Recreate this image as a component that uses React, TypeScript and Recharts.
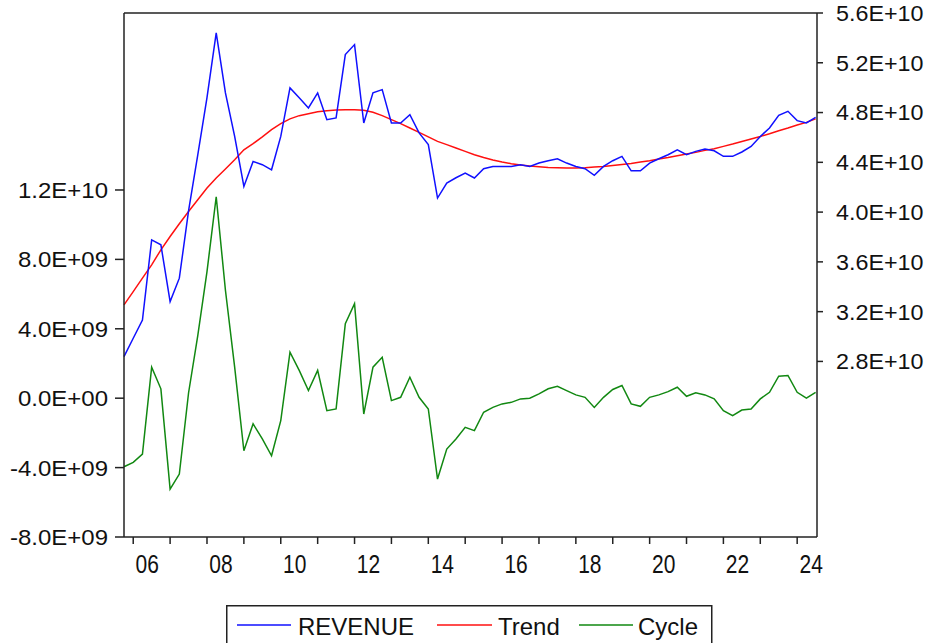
import { ComposedChart, Line, XAxis, YAxis, ReferenceLine } from 'recharts';

// quarterly observations, first one is 2005Q4; values in billions
const START_YEAR = 2005;
const START_QUARTER = 4;

const REVENUE = [
  28.38, 29.86, 31.33, 37.77, 37.37, 32.81, 34.69, 40.1, 44.6, 49.2,
  54.41, 49.58, 46.08, 42.06, 44.07, 43.81, 43.4, 46.08, 49.98, 49.18,
  48.37, 49.58, 47.43, 47.57, 52.66, 53.46, 47.16, 49.58, 49.84, 47.16,
  47.16, 47.83, 46.36, 45.42, 41.13, 42.33, 42.76, 43.14, 42.74, 43.49,
  43.67, 43.67, 43.67, 43.81, 43.67, 43.94, 44.13, 44.29, 43.94, 43.67,
  43.49, 42.95, 43.67, 44.13, 44.48, 43.32, 43.32, 43.94, 44.29, 44.61,
  45.01, 44.61, 44.88, 45.07, 44.93, 44.48, 44.48, 44.83, 45.28, 46.08,
  46.76, 47.77, 48.1, 47.35, 47.16, 47.61,
];

const TREND = [
  32.54, 33.61, 34.69, 35.76, 36.97, 38.04, 39.06, 40.05, 40.99, 41.93,
  42.74, 43.46, 44.21, 45.01, 45.5, 46.04, 46.62, 47.11, 47.49, 47.75,
  47.91, 48.07, 48.15, 48.21, 48.23, 48.23, 48.18, 48.02, 47.75, 47.43,
  47.11, 46.76, 46.41, 46.04, 45.68, 45.42, 45.15, 44.88, 44.61, 44.39,
  44.19, 44.02, 43.89, 43.78, 43.7, 43.65, 43.59, 43.57, 43.54, 43.54,
  43.57, 43.62, 43.67, 43.75, 43.83, 43.91, 44.02, 44.13, 44.27, 44.39,
  44.53, 44.67, 44.8, 44.96, 45.09, 45.28, 45.47, 45.68, 45.88, 46.08,
  46.3, 46.54, 46.76, 47.0, 47.21, 47.49,
];

const CYCLE = [
  -3.95, -3.7, -3.22, 1.79, 0.54, -5.24, -4.37, 0.3, 3.6, 7.3,
  11.61, 6.22, 1.79, -3.03, -1.48, -2.35, -3.32, -1.29, 2.65, 1.6,
  0.44, 1.6, -0.72, -0.62, 4.3, 5.45, -0.91, 1.79, 2.36, -0.14,
  0.05, 1.21, 0.05, -0.62, -4.66, -2.93, -2.35, -1.68, -1.87, -0.81,
  -0.53, -0.33, -0.24, -0.04, 0.0, 0.25, 0.54, 0.69, 0.44, 0.19,
  0.05, -0.53, 0.05, 0.5, 0.73, -0.33, -0.47, 0.05, 0.19, 0.38,
  0.63, 0.11, 0.31, 0.19, -0.04, -0.72, -1.01, -0.68, -0.62, -0.04,
  0.34, 1.27, 1.31, 0.34, 0.0, 0.34,
];

const YEAR_TICKS = [
  2006, 2007, 2008, 2009, 2010, 2011, 2012, 2013, 2014, 2015,
  2016, 2017, 2018, 2019, 2020, 2021, 2022, 2023, 2024,
];
const LEFT_TICKS = [-8, -4, 0, 4, 8, 12];
const RIGHT_TICKS = [28, 32, 36, 40, 44, 48, 52, 56];

const LEFT_DOMAIN = [-8, 22.2];
const RIGHT_DOMAIN = [13.89, 56];

const FONT = '"Liberation Sans", Arial, sans-serif';
const AXIS = '#222';

const yearIndex = (year: number) => (year - START_YEAR) * 4 + 1 - START_QUARTER;

const data = REVENUE.map((revenue, i) => ({
  i,
  revenue,
  trend: TREND[i],
  cycle: CYCLE[i],
}));

function sci(bn: number) {
  const v = bn * 1e9;
  if (v === 0) return '0.0E+00';
  const e = Math.floor(Math.log10(Math.abs(v)) + 1e-9);
  const m = v / Math.pow(10, e);
  return `${m.toFixed(1)}E+${String(e).padStart(2, '0')}`;
}

function LeftTick({ x, y, payload }: any) {
  return (
    <text
      transform={`translate(${x},${y}) scale(1.09,1)`}
      dy="0.36em"
      textAnchor="end"
      fontFamily={FONT}
      fontSize={22}
      fill="#111"
    >
      {sci(payload.value)}
    </text>
  );
}

function RightTick({ x, y, payload }: any) {
  return (
    <text
      transform={`translate(${x},${y}) scale(1.06,1)`}
      dy="0.36em"
      textAnchor="start"
      fontFamily={FONT}
      fontSize={22}
      fill="#111"
    >
      {sci(payload.value)}
    </text>
  );
}

function YearTick({ x, y, payload }: any) {
  const year = YEAR_TICKS.find((yr) => yearIndex(yr) === payload.value) ?? 0;
  if (year % 2 !== 0) return <g />;
  return (
    <text
      transform={`translate(${x + 14},${y + 27}) scale(1,1.2)`}
      textAnchor="middle"
      fontFamily={FONT}
      fontSize={21}
      fill="#111"
    >
      {String(year % 100).padStart(2, '0')}
    </text>
  );
}

function LegendBox() {
  const items = [
    { name: 'REVENUE', color: '#1010ff', x1: 237, x2: 291, tx: 298 },
    { name: 'Trend', color: '#ff1010', x1: 437, x2: 492, tx: 498 },
    { name: 'Cycle', color: '#118811', x1: 579, x2: 633, tx: 638 },
  ];
  return (
    <svg width={931} height={643} style={{ position: 'absolute', left: 0, top: 0, pointerEvents: 'none' }}>
      <rect x={226.75} y={605.75} width={485} height={60} fill="#fff" stroke={AXIS} strokeWidth={1.5} />
      {items.map((it) => (
        <g key={it.name}>
          <line x1={it.x1} x2={it.x2} y1={625} y2={625} stroke={it.color} strokeWidth={1.5} />
          <text x={it.tx} y={635} fontFamily={FONT} fontSize={24} fill="#111">
            {it.name}
          </text>
        </g>
      ))}
    </svg>
  );
}

export default function App() {
  return (
    <div style={{ position: 'absolute', left: 0, top: 0, width: 931, height: 643, background: '#fff', overflow: 'hidden' }}>
      <ComposedChart width={931} height={643} data={data} margin={{ top: 13, right: 0, left: 0, bottom: 66 }}>
        <XAxis
          dataKey="i"
          type="number"
          domain={[0, 75.15]}
          ticks={YEAR_TICKS.map(yearIndex)}
          interval={0}
          height={40}
          tickSize={7}
          tick={<YearTick />}
          axisLine={{ stroke: AXIS, strokeWidth: 1.5 }}
          tickLine={{ stroke: AXIS, strokeWidth: 1.5 }}
        />
        <YAxis
          yAxisId="left"
          orientation="left"
          domain={LEFT_DOMAIN}
          ticks={LEFT_TICKS}
          interval={0}
          width={124}
          tickSize={9}
          tickMargin={7}
          tick={<LeftTick />}
          axisLine={{ stroke: AXIS, strokeWidth: 1.5 }}
          tickLine={{ stroke: AXIS, strokeWidth: 1.5 }}
        />
        <YAxis
          yAxisId="right"
          orientation="right"
          domain={RIGHT_DOMAIN}
          ticks={RIGHT_TICKS}
          interval={0}
          width={114}
          tickSize={6}
          tickMargin={13}
          tick={<RightTick />}
          axisLine={{ stroke: AXIS, strokeWidth: 1.5 }}
          tickLine={{ stroke: AXIS, strokeWidth: 1.5 }}
        />
        <ReferenceLine yAxisId="left" y={LEFT_DOMAIN[1]} stroke={AXIS} strokeWidth={1.5} />
        <Line yAxisId="right" dataKey="trend" type="linear" stroke="#ff1010" strokeWidth={1.5} dot={false} isAnimationActive={false} />
        <Line yAxisId="right" dataKey="revenue" type="linear" stroke="#1010ff" strokeWidth={1.5} dot={false} isAnimationActive={false} />
        <Line yAxisId="left" dataKey="cycle" type="linear" stroke="#118811" strokeWidth={1.5} dot={false} isAnimationActive={false} />
      </ComposedChart>
      <LegendBox />
    </div>
  );
}
